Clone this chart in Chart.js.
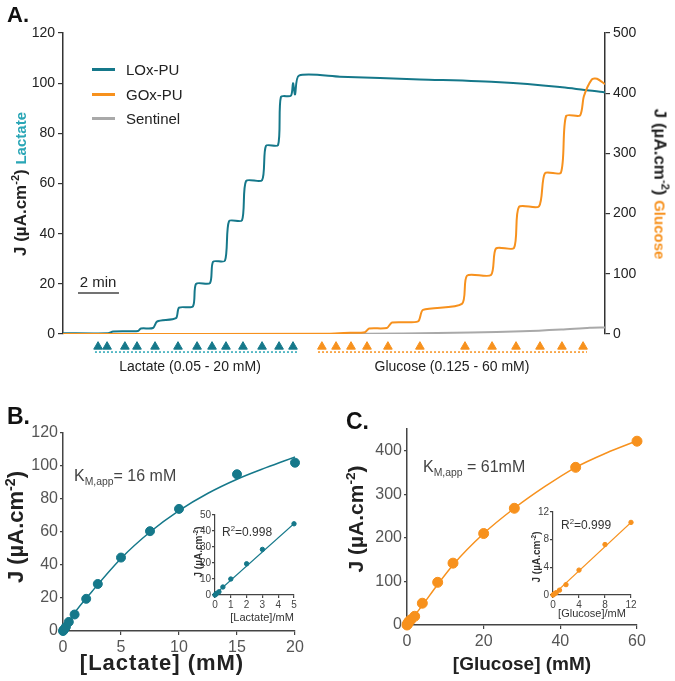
<!DOCTYPE html>
<html>
<head>
<meta charset="utf-8">
<script src="https://cdn.jsdelivr.net/npm/chart.js@4.4.1/dist/chart.umd.min.js"></script>
<style>
  body { margin: 0; background: #fff; font-family: "Liberation Sans", Arial, sans-serif; }
  #wrap { position: relative; width: 675px; height: 681px; overflow: hidden; }
  canvas { position: absolute; }
  .t { position: absolute; white-space: nowrap; color: #222; line-height: 1; }
  .c { transform: translate(-50%, -50%); }
  .l { transform: translate(0, -50%); }
  .up { transform: translate(-50%, -50%) rotate(-90deg); }
  .down { transform: translate(-50%, -50%) rotate(90deg); }
  .b { font-weight: bold; }
  sup, sub { font-size: 65%; line-height: 0; }
</style>
</head>
<body>
<div id="wrap">
  <canvas id="chartA" width="675" height="381" style="left:0;top:0"></canvas>
  <canvas id="chartAmarks" width="675" height="30" style="left:0;top:334px"></canvas>
  <canvas id="chartB" width="330" height="300" style="left:0;top:380px"></canvas>
  <canvas id="chartBin" width="120" height="125" style="left:185px;top:505px"></canvas>
  <canvas id="chartC" width="335" height="300" style="left:340px;top:380px"></canvas>
  <canvas id="chartCin" width="120" height="125" style="left:523px;top:500px"></canvas>

  <!-- panel A texts -->
  <div class="t b" style="left:7px;top:4px;font-size:22px;color:#111">A.</div>
  <div class="t up b" style="left:20px;top:184px;font-size:17px;color:#222">J (µA.cm<sup>-2</sup>) <span style="color:#2aa6b6;font-size:15px">Lactate</span></div>
  <div class="t down b" style="left:660px;top:184px;font-size:17px;color:#222">J (µA.cm<sup>-2</sup>) <span style="color:#f7911d;font-size:15px">Glucose</span></div>
  <div class="t l" style="left:126px;top:69px;font-size:15px">LOx-PU</div>
  <div class="t l" style="left:126px;top:94px;font-size:15px">GOx-PU</div>
  <div class="t l" style="left:126px;top:118px;font-size:15px">Sentinel</div>
  <div style="position:absolute;left:92px;top:68px;width:23px;height:2.5px;background:#15788a"></div>
  <div style="position:absolute;left:92px;top:93px;width:23px;height:2.5px;background:#f7911d"></div>
  <div style="position:absolute;left:92px;top:117px;width:23px;height:2.5px;background:#a9a9a9"></div>
  <div class="t c" style="left:98px;top:281px;font-size:15px">2 min</div>
  <div class="t c" style="left:190px;top:366px;font-size:14px">Lactate (0.05 - 20 mM)</div>
  <div class="t c" style="left:452px;top:366px;font-size:14px">Glucose (0.125 - 60 mM)</div>

  <!-- panel B texts -->
  <div class="t b" style="left:7px;top:405px;font-size:23px;color:#111">B.</div>
  <div class="t up b" style="left:16px;top:527px;font-size:22px">J (µA.cm<sup>-2</sup>)</div>
  <div class="t c b" style="left:162px;top:663px;font-size:22px;letter-spacing:1px">[Lactate] (mM)</div>
  <div class="t l" style="left:74px;top:476px;font-size:16px;color:#444">K<sub>M,app</sub>= 16 mM</div>
  <div class="t l" style="left:222px;top:532px;font-size:12px;color:#333">R<sup>2</sup>=0.998</div>
  <div class="t up b" style="left:199px;top:552px;font-size:10px;color:#333">J (µA.cm<sup>-2</sup>)</div>
  <div class="t c" style="left:262px;top:617px;font-size:11px;color:#333">[Lactate]/mM</div>

  <!-- panel C texts -->
  <div class="t b" style="left:346px;top:410px;font-size:23px;color:#111">C.</div>
  <div class="t up b" style="left:355px;top:519px;font-size:21px">J (µA.cm<sup>-2</sup>)</div>
  <div class="t c b" style="left:522px;top:663px;font-size:19px">[Glucose] (mM)</div>
  <div class="t l" style="left:423px;top:467px;font-size:16px;color:#444">K<sub>M,app</sub> = 61mM</div>
  <div class="t l" style="left:561px;top:525px;font-size:12px;color:#333">R<sup>2</sup>=0.999</div>
  <div class="t up b" style="left:537px;top:557px;font-size:10px;color:#333">J (µA.cm<sup>-2</sup>)</div>
  <div class="t c" style="left:592px;top:613px;font-size:11px;color:#333">[Glucose]/mM</div>
</div>

<script>
// ---- Panel A: amperometric traces (time in min) ----
const lacTime = [0, 2.2, 2.44, 3.66, 3.8, 4.39, 4.59, 5.51, 5.66, 6.34, 6.49, 7.17, 7.32, 7.9, 8.1, 8.73, 8.93, 9.71, 9.9, 10.49, 10.63, 11.12, 11.22, 11.32, 11.51, 13.51, 17.41, 21.32, 24.24, 26.44];
const lacJ = [0.3, 0.3, 1.0, 1.2, 2.2, 2.4, 5.0, 6.3, 10.5, 11, 20, 20.3, 28.8, 29.2, 45, 45.3, 61, 61.3, 75, 75.3, 94.5, 95, 100, 95.5, 103, 102.6, 101.5, 100.4, 98.5, 96.3];
const gluTime = [0, 13.02, 14.0, 14.73, 14.93, 15.8, 16.05, 17.32, 17.56, 19.46, 19.71, 20.88, 21.12, 22.0, 22.24, 23.22, 23.51, 24.29, 24.54, 25.22, 25.41, 25.8, 26.05, 26.44];
const gluJ = [0, 0.5, 2, 3, 9, 10, 19, 21, 40, 50, 97, 98, 142, 143, 211, 212, 267, 268, 362, 363, 395, 423, 424, 415];
const senTime = [0, 13.0, 16.6, 19.9, 22.4, 24.3, 25.7, 26.44];
const senJ = [0, 0.2, 1, 2.5, 4.5, 7.5, 10.5, 11];
// additions (triangles) and their concentration ranges
const lacAdd = [1.71, 2.15, 3.02, 3.61, 4.49, 5.61, 6.54, 7.27, 7.95, 8.78, 9.71, 10.54, 11.22];
const gluAdd = [12.63, 13.32, 14.05, 14.83, 15.85, 17.41, 19.61, 20.93, 22.1, 23.27, 24.34, 25.37];
const lacRange = [1.56, 11.46];
const gluRange = [12.44, 25.56];
const scaleBar = [0.73, 2.73];

// ---- Panel B: lactate calibration ----
const lacConc = [0, 0.05, 0.1, 0.25, 0.5, 1, 2, 3, 5, 7.5, 10, 15, 20];
const lacResp = [0, 0.5, 1, 2.5, 5.5, 10, 19.5, 28.5, 44.5, 60.5, 74, 95, 102];
const lacFitX = [0, 1, 2.5, 5, 7.5, 10, 12.5, 15, 17.5, 20];
const lacFitY = [0, 11, 24, 44, 60, 73, 83.5, 92, 99, 105.5];
const lacLowConc = [0, 0.05, 0.1, 0.25, 0.5, 1, 2, 3, 5];
const lacLowResp = [0, 0.5, 1, 2, 5, 10, 19.5, 28.5, 44.5];
const lacLinX = [0, 5];
const lacLinY = [0.5, 44.5];

// ---- Panel C: glucose calibration ----
const gluConc = [0, 0.125, 0.25, 0.5, 1, 2, 4, 8, 12, 20, 28, 44, 60];
const gluResp = [0, 2, 4, 8, 12, 20, 50, 98, 142, 210, 268, 362, 422];
const gluFitX = [0, 2, 4, 8, 12, 20, 28, 36, 44, 52, 60];
const gluFitY = [0, 22, 45, 93, 138, 210, 268, 318, 362, 395, 423];
const gluLowConc = [0, 0.125, 0.25, 0.5, 1, 2, 4, 8, 12];
const gluLowResp = [0, 0.1, 0.2, 0.35, 0.7, 1.5, 3.6, 7.3, 10.5];
const gluLinX = [0, 12];
const gluLinY = [0, 10.5];

const FONT = '"Liberation Sans", Arial, sans-serif';
const TEAL = '#15788a';
const ORANGE = '#f7911d';
const GRAY = '#a9a9a9';

function pts(xs, ys) { return xs.map((x, i) => ({ x: x, y: ys[i] })); }
function row(xs, y) { return xs.map(x => ({ x: x, y: y })); }

function axis(min, max, step, opts) {
  const o = Object.assign({ size: 14, color: '#222', line: '#333', tick: 5, pad: 3, width: null, height: null, pos: null, bw: 1.5 }, opts || {});
  const a = {
    type: 'linear', min: min, max: max,
    ticks: { stepSize: step, includeBounds: false, color: o.color, padding: o.pad, font: { size: o.size, family: FONT } },
    grid: { display: true, drawOnChartArea: false, drawTicks: true, tickLength: o.tick, color: o.line, lineWidth: 1.2 },
    border: { display: true, color: o.line, width: o.bw }
  };
  if (o.pos) a.position = o.pos;
  if (o.width !== null) a.afterFit = s => { s.width = o.width; };
  if (o.height !== null) a.afterFit = s => { s.height = o.height; };
  return a;
}

const base = {
  responsive: false, animation: false,
  plugins: { legend: { display: false }, tooltip: { enabled: false } }
};

// Panel A
new Chart(document.getElementById('chartA'), {
  type: 'line',
  data: {
    datasets: [
      { data: pts(gluTime, gluJ), yAxisID: 'y2', borderColor: ORANGE, borderWidth: 2, pointRadius: 0, tension: 0.25, order: 1 },
      { data: pts(lacTime, lacJ), yAxisID: 'y', borderColor: TEAL, borderWidth: 2, pointRadius: 0, tension: 0.25, order: 2 },
      { data: pts(senTime, senJ), yAxisID: 'y2', borderColor: GRAY, borderWidth: 2, pointRadius: 0, tension: 0.3, order: 3 },
      { data: row(scaleBar, 16.3), yAxisID: 'y', borderColor: '#444', borderWidth: 1.5, pointRadius: 0 }
    ]
  },
  options: Object.assign({}, base, {
    layout: { padding: { top: 33, bottom: 47, left: 0, right: 0 } },
    scales: {
      x: { type: 'linear', min: 0, max: 26.44, display: false },
      y: axis(0, 120, 20, { pos: 'left', width: 63 }),
      y2: axis(0, 500, 100, { pos: 'right', width: 70 })
    }
  })
});

// Panel A addition markers, same time axis, strip below the traces (J units of left axis)
new Chart(document.getElementById('chartAmarks'), {
  type: 'line',
  data: {
    datasets: [
      { data: row(lacAdd, -4.4), showLine: false, pointStyle: 'triangle', pointRadius: 5, backgroundColor: TEAL, borderColor: TEAL },
      { data: row(gluAdd, -4.4), showLine: false, pointStyle: 'triangle', pointRadius: 5, backgroundColor: ORANGE, borderColor: ORANGE },
      { data: row(lacRange, -8), borderColor: '#2aa6b6', borderWidth: 1.5, borderDash: [2, 2], pointRadius: 0 },
      { data: row(gluRange, -8), borderColor: ORANGE, borderWidth: 1.5, borderDash: [2, 2], pointRadius: 0 }
    ]
  },
  options: Object.assign({}, base, {
    layout: { padding: { top: 0, bottom: 0, left: 63, right: 70 } },
    scales: {
      x: { type: 'linear', min: 0, max: 26.44, display: false },
      y: { type: 'linear', min: -11.95, max: 0, display: false }
    }
  })
});

// Panel B
new Chart(document.getElementById('chartB'), {
  type: 'scatter',
  data: {
    datasets: [
      { data: pts(lacConc, lacResp), backgroundColor: TEAL, borderColor: TEAL, pointRadius: 4.5, clip: false },
      { type: 'line', data: pts(lacFitX, lacFitY), borderColor: TEAL, borderWidth: 1.5, pointRadius: 0, cubicInterpolationMode: 'monotone' }
    ]
  },
  options: Object.assign({}, base, {
    layout: { padding: { top: 53, right: 35, left: 0, bottom: 0 } },
    scales: {
      x: axis(0, 20, 5, { size: 16, color: '#555', line: '#444', tick: 4, height: 49 }),
      y: axis(0, 120, 20, { size: 16, color: '#555', line: '#444', tick: 3, width: 63, pad: 2 })
    }
  })
});

// Panel B inset
new Chart(document.getElementById('chartBin'), {
  type: 'scatter',
  data: {
    datasets: [
      { data: pts(lacLowConc, lacLowResp), backgroundColor: TEAL, borderColor: TEAL, pointRadius: 2.2, clip: false },
      { type: 'line', data: pts(lacLinX, lacLinY), borderColor: TEAL, borderWidth: 1.2, pointRadius: 0 }
    ]
  },
  options: Object.assign({}, base, {
    layout: { padding: { top: 10, right: 11, left: 0, bottom: 0 } },
    scales: {
      x: axis(0, 5, 1, { size: 10, color: '#444', line: '#444', tick: 3, height: 35, bw: 1.2, pad: 1 }),
      y: axis(0, 50, 10, { size: 10, color: '#444', line: '#444', tick: 3, width: 30, bw: 1.2, pad: 1 })
    }
  })
});

// Panel C
new Chart(document.getElementById('chartC'), {
  type: 'scatter',
  data: {
    datasets: [
      { data: pts(gluConc, gluResp), backgroundColor: ORANGE, borderColor: ORANGE, pointRadius: 5, clip: false },
      { type: 'line', data: pts(gluFitX, gluFitY), borderColor: ORANGE, borderWidth: 1.5, pointRadius: 0, cubicInterpolationMode: 'monotone' }
    ]
  },
  options: Object.assign({}, base, {
    layout: { padding: { top: 49, right: 38, left: 0, bottom: 0 } },
    scales: {
      x: axis(0, 60, 20, { size: 16, color: '#555', line: '#444', tick: 4, height: 55 }),
      y: axis(0, 450, 100, { size: 16, color: '#555', line: '#444', tick: 3, width: 67, pad: 2 })
    }
  })
});

// Panel C inset
new Chart(document.getElementById('chartCin'), {
  type: 'scatter',
  data: {
    datasets: [
      { data: pts(gluLowConc, gluLowResp), backgroundColor: ORANGE, borderColor: ORANGE, pointRadius: 2.2, clip: false },
      { type: 'line', data: pts(gluLinX, gluLinY), borderColor: ORANGE, borderWidth: 1.2, pointRadius: 0 }
    ]
  },
  options: Object.assign({}, base, {
    layout: { padding: { top: 12, right: 12, left: 0, bottom: 0 } },
    scales: {
      x: axis(0, 12, 4, { size: 10, color: '#444', line: '#444', tick: 3, height: 30, bw: 1.2, pad: 1 }),
      y: axis(0, 12, 4, { size: 10, color: '#444', line: '#444', tick: 3, width: 30, bw: 1.2, pad: 1 })
    }
  })
});
</script>
</body>
</html>
